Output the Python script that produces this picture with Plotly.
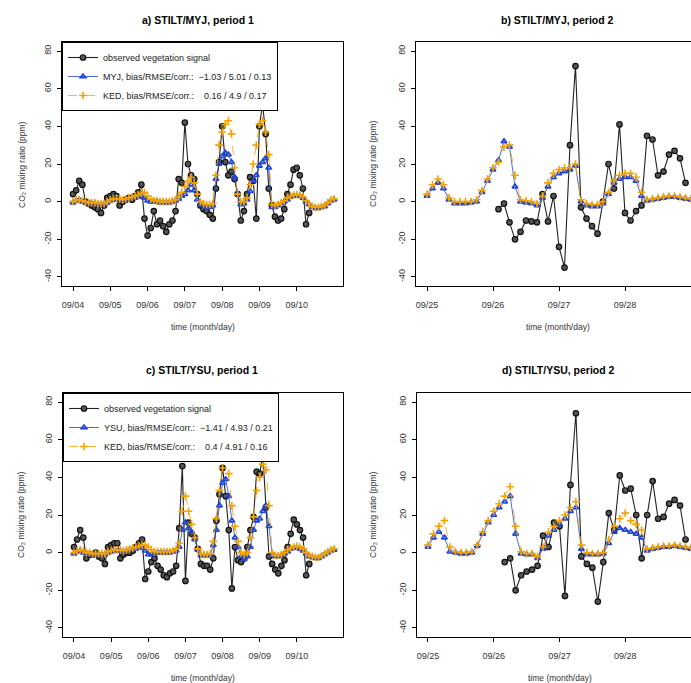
import pandas as pd
import plotly.graph_objects as go

# ---------------- data (2-hourly) ----------------
P1_START = "2008-09-04 00:00"
P2_START = "2008-09-25 00:00"
P1_TICKS = ["09/04", "09/05", "09/06", "09/07", "09/08", "09/09", "09/10"]
P2_TICKS = ["09/25", "09/26", "09/27", "09/28"]
Y_TICKS = [-40, -20, 0, 20, 40, 60, 80]

N = None
# panel a: STILT/MYJ period 1
obs_a = [4, 6, 11, 9, 0, -1, -2, -3, -4, -6, -2, 2, 3, 4, 3, -2, 0, 1, 2, 1, 3, 5, 9, -9, -18,
         -14, -5, -12, -10, -13, -16, -12, -10, -5, 12, 10, 42, 20, 14, 12, 4, -2, -4, -5, -7,
         -9, 7, 21, 40, 21, 14, 16, 12, 4, -10, -5, 4, 13, 11, -9, 40, 52, 36, 7, -2, -8, -10,
         -9, -4, 4, 9, 17, 18, 14, 7, -12, -6, N, N, N, N, N, N, N, N]
myj_a = [-0.5, 0.5, 1, 0, -0.5, -1, -1, -1, -1.5, -1.5, -1.5, -0.5, 0.5, 1, 1, 1, 0.5, 1, 1.5,
         2, 2, 2.5, 3, 2, 0.5, 0, 0, 0, -0.5, -0.5, -0.5, -0.5, 0, 0.5, 1.5, 3, 4, 6, 9, 6, 1,
         -1.5, -2, -3, -3, -2, 12, 20, 24, 26, 25, 21, 13, 4, -1.5, -1, 1, 5.5, 11, 14, 19, 21,
         23, 18, -3, -3, -2, -1, 0, 1, 2.5, 3, 3, 3, 2, 0, -1.5, -3, -3.5, -3.5, -3, -2.5, -1,
         0.5, 1]
ked_a = [0, 1, 1, 0.5, 0, -0.5, -0.5, -0.5, -1, -1, -1, 0, 1, 1.5, 1.5, 1.5, 1, 1.5, 2, 2.5, 3,
         3.5, 4.5, 5, 3, 1.5, 0.5, 0.5, 0, 0, 0, 0, 0.5, 1, 2.5, 5, 8, 11, 13, 10, 4, 0, -1,
         -1.5, -1.5, -1, 14, 30, 37, 41, 43, 36, 18, 4, 0, 0, 2, 9, 20, 30, 41, 43, 37, 25, -1.5,
         -2, -1.5, -0.5, 0.5, 2, 3, 3.5, 3.7, 3.5, 2.5, 0.5, -1, -2.5, -3, -3, -2.5, -2, -0.5,
         1, 1.5]

# panel b: STILT/MYJ period 2
obs_b = [N, N, N, N, N, N, N, N, N, N, N, N, N, -4, -1, -11, -20, -16, -10, -10.5, -11, 4,
         -10.5, 3, -24, -35, 30, 72, -3, -9, -13, -17, 0, 20, 7, 41, -6, -10, -5, -2, 35, 33,
         14, 16, 25, 27, 23, 10, N]
myj_b = [3, 7, 10, 7, 1, -1, -1, -1, -0.5, 0, 5, 11, 17, 22, 32, 29, 8, 0, -0.5, -1, -2, 2, 8,
         13, 15, 16, 17, 19, 0, -2, -2.5, -2.5, -1, 4, 10, 12, 13, 13, 11, 3, 0.5, 1, 1.5, 2,
         2.5, 2.5, 2, 1.5, 1]
ked_b = [4, 9, 12, 9, 2, 0, 0, 0, 0, 1, 6, 12, 18, 21, 29, 30, 14, 1, 0.5, 0, -1, 3, 10, 15,
         17, 18, 18, 20, 1, -1, -1.5, -1.5, 0, 5, 11, 14, 15, 15, 13, 5, 1, 1.5, 2, 2.5, 3, 3,
         2.5, 2, 1.5]

# panel c: STILT/YSU period 1
obs_c = [3, 7, 12, 8, -3, -1, -1, 0, -2, -3, -6, 3, 4, 5, 5, -3, -1, 0, 0, 1, 3, 5, 7, -14, -10,
         -5, -3, -7, -9, -12, -13, -11, -10, -7, 13, 46, -15, 16, 10, 8, 2, -6, -7, -7, -9, -3,
         17, 31, 45, 30, 12, -19, 3, -4, -5, -3, 3, 12, 19, 43, 42, 52, 24, -2, -6, -9, -11, -7,
         -4, 3, 10, 17.5, 15, 12, 8, -12, -6, N, N, N, N, N, N, N, N]
ysu_c = [-0.5, 0.5, 1, 0, -0.5, -1, -1, -1, -1, -1, -1, 0, 0.5, 1, 1, 1, 0.5, 1, 1.5, 2, 2,
         2.5, 3, 1, -1, -1, -0.5, 0, 0, 0, 0, 0, 0.5, 1, 3, 12, 16, 13, 11, 7, 1.5, -1.5, -1.5,
         -1.5, -1.5, 4, 12, 25, 37, 39, 30, 17, 8, 3, -2, -3.5, -2, 3, 12, 17, 18, 22, 25, 14,
         -1, -2, -2, -1.5, -0.5, 0.5, 2, 2.5, 2.5, 2, 1, -0.5, -2, -2.5, -3, -3, -2, -1, 0, 1,
         1.5]
ked_c = [0, 1, 1.5, 1, 0, 0, -0.5, -0.5, -0.5, -0.5, -0.5, 0.5, 1, 1.5, 1.5, 1.5, 1, 1.5, 2,
         2.5, 3, 3.5, 4, 4, 3, 1.5, 0.5, 0.5, 0.5, 0.5, 0.5, 0.5, 1, 2, 5, 22, 30, 22, 15, 8, 2,
         -0.5, -1, -1, -0.5, 6, 18, 33, 45, 55, 42, 25, 14, 6, 0, -1, 0, 8, 19, 33, 40, 47, 44,
         25, 0, -1.5, -1.5, -1, 0, 1.5, 2.5, 3, 3.5, 3, 2, 0, -1.5, -2, -2.5, -2.5, -1.5, -0.5,
         0.5, 1.5, 2]

# panel d: STILT/YSU period 2
obs_d = [N, N, N, N, N, N, N, N, N, N, N, N, N, N, -5, -3, -20, -12, -10, -9, -7, 9, 3, 16, 14,
         -23, 36, 74, -2, -6, -8, -26, -5, 21, 12, 41, 33, 34, 20, -3, 20, 38, 18, 19, 26, 28,
         25, 7, N]
ysu_d = [3, 8, 11, 8, 0.5, 0, -0.5, -0.5, 0, 3.5, 10, 16, 20, 24, 27, 30, 10, -0.5, -1, -1, -3,
         2, 9, 12, 15, 18, 22, 24, 2, -1, -1, -1, -0.5, 5, 11, 13, 12, 11, 10, 8, 1, 2, 2.5, 3,
         3, 3.5, 3, 2.5, 2]
ked_d = [4, 10, 14, 17, 3, 0.5, 0, 0, 0.5, 4, 11, 17, 22, 26, 30, 35, 14, 0.5, -0.5, -0.5, -2,
         3, 11, 14, 17, 20, 24, 27, 4, 0, -0.5, -0.5, 0, 7, 14, 18, 21, 17, 15, 12, 2, 2.5, 3,
         3.5, 3.5, 4, 3.5, 3, 2.5]

TITLES = ["a) STILT/MYJ, period 1", "b) STILT/MYJ, period 2",
          "c) STILT/YSU, period 1", "d) STILT/YSU, period 2"]
X_TITLE = "time (month/day)"
Y_TITLE = "CO\u2082 mixing ratio (ppm)"
LEG_A = ["observed vegetation signal",
         "MYJ, bias/RMSE/corr.:  \u22121.03 / 5.01 / 0.13",
         "KED, bias/RMSE/corr.:  \u00a0\u00a00.16 / 4.9 / 0.17"]
LEG_C = ["observed vegetation signal",
         "YSU, bias/RMSE/corr.:  \u22121.41 / 4.93 / 0.21",
         "KED, bias/RMSE/corr.:  \u00a0\u00a00.4 / 4.91 / 0.16"]

t1 = pd.date_range(P1_START, periods=len(obs_a), freq="2h")
t2 = pd.date_range(P2_START, periods=len(obs_b), freq="2h")

W, H = 691, 683
FONT = "Liberation Sans, Arial, sans-serif"
BLUE = "#1f45d6"
ORANGE = "#f5a300"

fig = go.Figure()

panels = [
    (t1, obs_a, myj_a, ked_a, "x", "y", "legend", LEG_A),
    (t2, obs_b, myj_b, ked_b, "x2", "y2", None, None),
    (t1, obs_c, ysu_c, ked_c, "x3", "y3", "legend2", LEG_C),
    (t2, obs_d, ysu_d, ked_d, "x4", "y4", None, None),
]

for t, obs, mod, ked, xa, ya, leg, names in panels:
    show = leg is not None
    kw = dict(legend=leg) if show else {}
    fig.add_trace(go.Scatter(
        x=t, y=obs, xaxis=xa, yaxis=ya, mode="lines+markers",
        name=names[0] if show else "obs", showlegend=show,
        line=dict(color="#222222", width=1.1),
        marker=dict(symbol="circle", size=5.5, color="#555555",
                    line=dict(color="#111111", width=1.2)), **kw))
    fig.add_trace(go.Scatter(
        x=t, y=mod, xaxis=xa, yaxis=ya, mode="lines+markers",
        name=names[1] if show else "model", showlegend=show,
        line=dict(color=BLUE, width=0.8),
        marker=dict(symbol="triangle-up-open", size=5, color=BLUE,
                    line=dict(width=1.6)), **kw))
    fig.add_trace(go.Scatter(
        x=t, y=ked, xaxis=xa, yaxis=ya, mode="lines+markers",
        name=names[2] if show else "KED", showlegend=show,
        line=dict(color=ORANGE, width=0.8, dash="dash"),
        marker=dict(symbol="cross-thin-open", size=5.5, color=ORANGE,
                    line=dict(width=1.6, color=ORANGE)), **kw))


def px_x(p):
    return p / W


def px_y(p):
    return 1 - p / H


ax_font = dict(family=FONT, size=9, color="#333333")
base_x = dict(type="date", showline=True, linecolor="black", linewidth=1, mirror=True,
              ticks="outside", ticklen=4, tickcolor="black", showgrid=False,
              zeroline=False, tickfont=ax_font, ticklabelstandoff=6)
base_y = dict(range=[-44.8, 84.8], tickvals=Y_TICKS, ticktext=[str(v) for v in Y_TICKS],
              tickangle=-90, showline=True, linecolor="black", linewidth=1,
              ticks="outside", ticklen=4, tickcolor="black", showgrid=False,
              zeroline=False, tickfont=ax_font, ticklabelstandoff=2)

p1_tickvals = pd.date_range(P1_START, periods=len(P1_TICKS), freq="D")
p2_tickvals = pd.date_range(P2_START, periods=len(P2_TICKS), freq="D")
p1_range = [pd.Timestamp(P1_START) - pd.Timedelta(hours=7.1),
            pd.Timestamp(P1_START) + pd.Timedelta(hours=173.8)]
p2_range = [pd.Timestamp(P2_START) - pd.Timedelta(hours=4.0),
            pd.Timestamp(P2_START) + pd.Timedelta(hours=96.0)]

top_y = [px_y(286), px_y(42)]
bot_y = [px_y(637), px_y(393)]

leg_style = dict(xanchor="left", yanchor="top", bgcolor="white", bordercolor="black",
                 borderwidth=1, font=dict(family=FONT, size=9, color="#222222"),
                 tracegroupgap=0, itemwidth=30)

fig.update_layout(
    width=W, height=H, margin=dict(l=0, r=0, t=0, b=0),
    paper_bgcolor="white", plot_bgcolor="white",
    font=dict(family=FONT, size=9, color="#222222"),
    xaxis=dict(base_x, domain=[px_x(62), px_x(343)], range=p1_range,
               tickvals=p1_tickvals, ticktext=P1_TICKS, anchor="y"),
    yaxis=dict(base_y, domain=top_y, mirror=True, anchor="x"),
    xaxis2=dict(base_x, domain=[px_x(416), 1.0], range=p2_range,
                tickvals=p2_tickvals, ticktext=P2_TICKS, anchor="y2"),
    yaxis2=dict(base_y, domain=top_y, mirror=False, anchor="x2"),
    xaxis3=dict(base_x, domain=[px_x(63), px_x(343)], range=p1_range,
                tickvals=p1_tickvals, ticktext=P1_TICKS, anchor="y3"),
    yaxis3=dict(base_y, domain=bot_y, mirror=True, anchor="x3"),
    xaxis4=dict(base_x, domain=[px_x(417), 1.0], range=p2_range,
                tickvals=p2_tickvals, ticktext=P2_TICKS, anchor="y4"),
    yaxis4=dict(base_y, domain=bot_y, mirror=False, anchor="x4"),
    legend=dict(leg_style, x=px_x(62), y=px_y(42)),
    legend2=dict(leg_style, x=px_x(63), y=px_y(393)),
)

ann = []
title_pos = [(198, 20), (557, 20), (202, 370), (558, 370)]
for txt, (x, y) in zip(TITLES, title_pos):
    ann.append(dict(text=txt, x=px_x(x), y=px_y(y), xref="paper",
                    yref="paper", showarrow=False, xanchor="center", yanchor="middle",
                    font=dict(family=FONT, size=10.5, color="black", weight="bold")))
for x, y in [(203, 327), (558, 327), (203, 678), (560, 678)]:
    ann.append(dict(text=X_TITLE, x=px_x(x), y=px_y(y), xref="paper",
                    yref="paper", showarrow=False, xanchor="center", yanchor="middle",
                    font=dict(family=FONT, size=8.5, color="#333333")))
for x, y in [(22, 164), (373, 164), (21, 515), (373, 515)]:
    ann.append(dict(text=Y_TITLE, x=px_x(x), y=px_y(y),
                    xref="paper", yref="paper", showarrow=False, textangle=-90,
                    xanchor="center", yanchor="middle",
                    font=dict(family=FONT, size=8.5, color="#333333")))
fig.update_layout(annotations=ann)

fig.write_html("out.html")
